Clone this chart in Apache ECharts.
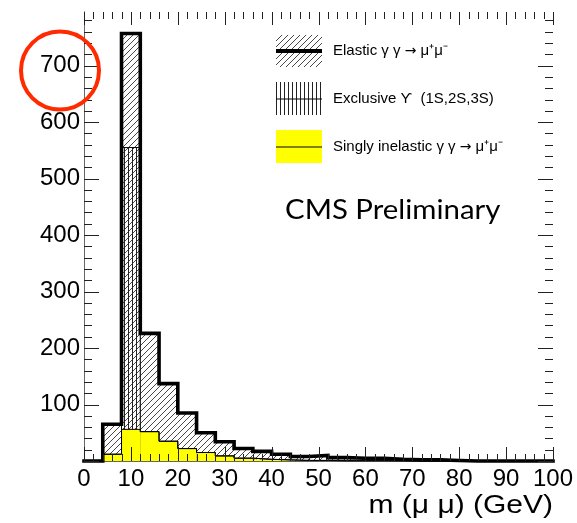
<!DOCTYPE html>
<html><head><meta charset="utf-8">
<script src="https://cdn.jsdelivr.net/npm/echarts@6/dist/echarts.min.js"></script>
<style>html,body{margin:0;padding:0;background:#fff}#c{width:577px;height:523px}</style>
</head><body><div id="c"></div>
<script>
// ---- data (4 GeV bins from 0 to 100) ----
const binWidth = 4;
const binLows = [0,4,8,12,16,20,24,28,32,36,40,44,48,52,56,60,64,68,72,76,80,84,88,92,96];
const inelastic = [0,12,56,52,35,22,15,9,5,3,2,1,1,0.5,0.5,0.5,0.3,0.2,0.2,0.1,0,0,0,0,0];
const upsilon   = [0,0,499,0,0,0,0,0,0,0,0,0,0,0,0,0,0,0,0,0,0,0,0,0,0];
const elastic   = [0,53,202,174,102,63,35,25,17,14,10,7,9,5.5,4.5,4.5,2.7,1.8,1.8,0.9,0,0,0,0,0];
const xTickValues = [0,10,20,30,40,50,60,70,80,90,100];
const yTickLabels = [100,200,300,400,500,600,700];
const X_MIN = 0, X_MAX = 100, Y_MIN = 0, Y_MAX = 795;
const X_MINOR_STEP = 2, Y_MINOR_STEP = 20;

// cumulative stacks
const cumInel = inelastic.slice();
const cumUps = inelastic.map((v,i)=>v+upsilon[i]);
const cumTot = cumUps.map((v,i)=>v+elastic[i]);

// ---- patterns ----
function diagPattern(){
  const c=document.createElement('canvas'); c.width=6; c.height=6;
  const g=c.getContext('2d'); g.strokeStyle='#333'; g.lineWidth=0.9;
  g.beginPath(); g.moveTo(0,6); g.lineTo(6,0); g.moveTo(-1,1); g.lineTo(1,-1); g.moveTo(5,7); g.lineTo(7,5); g.stroke();
  return {image:c, repeat:'repeat'};
}
function vertPattern(){
  const c=document.createElement('canvas'); c.width=4; c.height=4;
  const g=c.getContext('2d'); g.fillStyle='#222'; g.fillRect(0,0,1,4);
  return {image:c, repeat:'repeat'};
}
const DIAG = diagPattern(), VERT = vertPattern();

function rectData(vals){ return binLows.map((lo,i)=>[lo, lo+binWidth, 0, vals[i]]); }
function stepData(vals){ const d = binLows.map((lo,i)=>[lo, vals[i]]); d.push([binLows[binLows.length-1]+binWidth, vals[vals.length-1]]); return d; }
function histRender(fill){
  return function(params, api){
    const p0 = api.coord([api.value(0), api.value(2)]);
    const p1 = api.coord([api.value(1), api.value(3)]);
    const h = p0[1]-p1[1];
    if (h <= 0) return null;
    return {type:'rect', shape:{x:p0[0], y:p1[1], width:p1[0]-p0[0], height:h}, style:{fill:fill, stroke:null}};
  };
}

// tick mark lists (ROOT style: inward ticks on all four sides)
const xTickData = [];
for (let v = X_MIN; v <= X_MAX + 1e-9; v += X_MINOR_STEP) xTickData.push([v, Y_MIN, (v % 10 === 0) ? 1 : 0]);
const yTickData = [];
for (let v = Y_MIN; v < Y_MAX; v += Y_MINOR_STEP) yTickData.push([X_MIN, v, (v % 100 === 0) ? 1 : 0]);

const TICK_COLOR = '#222';
function xTickRender(params, api){
  const v = api.value(0), major = api.value(2) === 1;
  const pb = api.coord([v, Y_MIN]), pt = api.coord([v, Y_MAX]);
  const x = Math.round(pb[0]) + 0.5;
  const lb = major ? 14 : 7, lt = major ? 13 : 7;
  return {type:'group', children:[
    {type:'line', shape:{x1:x, y1:pb[1], x2:x, y2:pb[1]-lb}, style:{stroke:TICK_COLOR, lineWidth:1}},
    {type:'line', shape:{x1:x, y1:pt[1], x2:x, y2:pt[1]+lt}, style:{stroke:TICK_COLOR, lineWidth:1}}
  ]};
}
function yTickRender(params, api){
  const v = api.value(1), major = api.value(2) === 1;
  const pl = api.coord([X_MIN, v]), pr = api.coord([X_MAX, v]);
  const y = Math.round(pl[1]) + 0.5;
  const l = major ? 15 : 8;
  return {type:'group', children:[
    {type:'line', shape:{x1:pl[0], y1:y, x2:pl[0]+l, y2:y}, style:{stroke:TICK_COLOR, lineWidth:1}},
    {type:'line', shape:{x1:pr[0], y1:y, x2:pr[0]-l, y2:y}, style:{stroke:TICK_COLOR, lineWidth:1}}
  ]};
}

const FONT = '"Liberation Sans", Arial, sans-serif';
const chart = echarts.init(document.getElementById('c'), null, {renderer:'canvas'});
const axisCommon = {
  axisLine:{show:true, lineStyle:{color:'#666', width:1}},
  axisTick:{show:false}, minorTick:{show:false},
  splitLine:{show:false}
};
chart.setOption({
  animation:false,
  backgroundColor:'#fff',
  grid:{left:84, right:24, top:12, bottom:62, containLabel:false},
  xAxis:[
    Object.assign({type:'value', min:X_MIN, max:X_MAX, interval:10, position:'bottom',
      axisLabel:{fontSize:24, color:'#000', fontFamily:FONT, margin:6,
        formatter:v=> xTickValues.indexOf(v)>=0 ? String(v) : ''}}, axisCommon),
    Object.assign({type:'value', min:X_MIN, max:X_MAX, interval:10, position:'top',
      axisLabel:{show:false}}, axisCommon)
  ],
  yAxis:[
    Object.assign({type:'value', min:Y_MIN, max:Y_MAX, interval:100, position:'left',
      axisLabel:{fontSize:24, color:'#000', fontFamily:FONT, margin:4,
        formatter:v=> yTickLabels.indexOf(v)>=0 ? String(v) : ''}}, axisCommon),
    Object.assign({type:'value', min:Y_MIN, max:Y_MAX, interval:100, position:'right',
      axisLabel:{show:false}}, axisCommon)
  ],
  series:[
    {type:'custom', name:'Elastic', z:2, data:rectData(cumTot), encode:{x:[0,1], y:[2,3]}, renderItem:histRender(DIAG)},
    {type:'custom', name:'Upsilon', z:3, data:rectData(cumUps), encode:{x:[0,1], y:[2,3]}, renderItem:histRender(VERT)},
    {type:'custom', name:'Inelastic', z:4, data:rectData(cumInel), encode:{x:[0,1], y:[2,3]}, renderItem:histRender('#ffff00')},
    {type:'line', step:'end', symbol:'none', z:5, clip:false, data:stepData(cumUps), lineStyle:{color:'#000', width:1}},
    {type:'line', step:'end', symbol:'none', z:5, clip:false, data:stepData(cumInel), lineStyle:{color:'#000', width:1}},
    {type:'line', step:'end', symbol:'none', z:6, clip:false, data:stepData(cumTot), lineStyle:{color:'#000', width:3.6, join:'miter', cap:'square'}},
    {type:'custom', name:'xticks', z:7, silent:true, data:xTickData, encode:{x:0, y:1}, renderItem:xTickRender},
    {type:'custom', name:'yticks', z:7, silent:true, data:yTickData, encode:{x:0, y:1}, renderItem:yTickRender}
  ],
  graphic:[
    // legend swatches
    {type:'rect', left:276, top:35, shape:{width:46, height:32}, style:{fill:DIAG}, z:10},
    {type:'line', shape:{x1:276, y1:51, x2:322, y2:51}, style:{stroke:'#000', lineWidth:4}, z:11},
    {type:'rect', left:276, top:82, shape:{width:46, height:33}, style:{fill:VERT}, z:10},
    {type:'line', shape:{x1:276, y1:99, x2:322, y2:99}, style:{stroke:'#000', lineWidth:1}, z:11},
    {type:'rect', left:276, top:130, shape:{width:46, height:33}, style:{fill:'#ffff00'}, z:10},
    {type:'line', shape:{x1:276, y1:147, x2:322, y2:147}, style:{stroke:'#000', lineWidth:1}, z:11},
    {type:'text', x:333, y:51, style:{text:'Elastic \u03b3 \u03b3 {ar|\u2192} \u03bc\u207a\u03bc\u207b', font:'15px '+FONT, fill:'#000', verticalAlign:'middle',
      rich:{ar:{fontFamily:'"DejaVu Sans"', fontSize:14, fill:'#000'}}}, z:11},
    {type:'text', x:333, y:99, style:{text:'Exclusive \u03d2  (1S,2S,3S)', font:'15px '+FONT, fill:'#000', verticalAlign:'middle'}, z:11},
    {type:'text', x:333, y:147, style:{text:'Singly inelastic \u03b3 \u03b3 {ar|\u2192} \u03bc\u207a\u03bc\u207b', font:'15px '+FONT, fill:'#000', verticalAlign:'middle',
      rich:{ar:{fontFamily:'"DejaVu Sans"', fontSize:14, fill:'#000'}}}, z:11},
    // CMS Preliminary
    {type:'text', x:285, y:211, scaleX:1.13, style:{text:'CMS Preliminary', font:'26px Lato, "Open Sans", sans-serif', fill:'#000', verticalAlign:'middle'}, z:11},
    // axis title
    {type:'text', x:553, y:506, scaleX:1.2, style:{text:'m (\u03bc \u03bc) (GeV)', font:'25px '+FONT, fill:'#000', align:'right', verticalAlign:'middle'}, z:11},
    // red circle annotation
    {type:'circle', shape:{cx:60, cy:70.5, r:39}, style:{fill:'none', stroke:'#ff2a00', lineWidth:4}, z:12}
  ]
});
</script>
</body></html>
